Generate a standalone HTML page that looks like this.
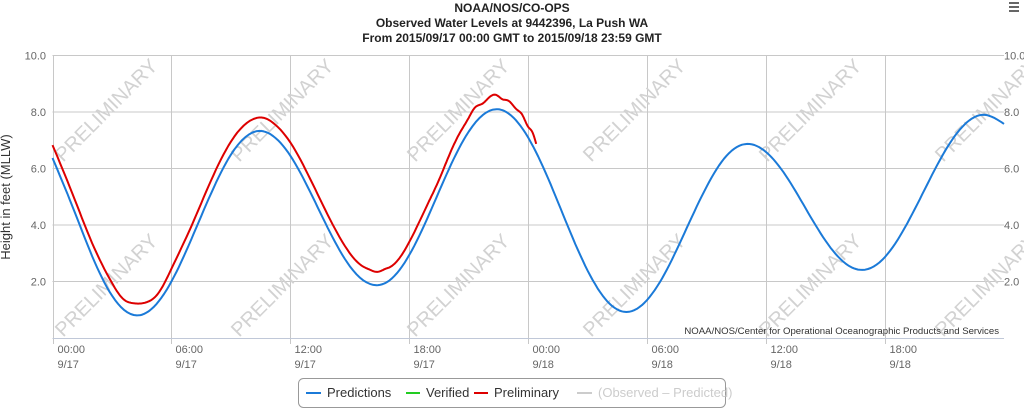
<!DOCTYPE html>
<html><head><meta charset="utf-8"><style>
html,body{margin:0;padding:0;background:#fff;width:1024px;height:411px;overflow:hidden;font-family:"Liberation Sans",sans-serif}
</style></head><body>
<svg id="chart" width="1024" height="411" viewBox="0 0 1024 411" xmlns="http://www.w3.org/2000/svg">
<g font-weight="bold" font-size="12" fill="#222" text-anchor="middle">
<text x="512" y="12">NOAA/NOS/CO-OPS</text>
<text x="512" y="27">Observed Water Levels at 9442396, La Push WA</text>
<text x="512" y="42">From 2015/09/17 00:00 GMT to 2015/09/18 23:59 GMT</text>
</g>
<g fill="#666">
<rect x="1009" y="2" width="10" height="2"/><rect x="1009" y="6" width="10" height="2"/><rect x="1009" y="10" width="10" height="2"/>
</g>
<g id="grid"></g>
<g id="watermarks"></g>
<g id="series"></g>
<g id="axes"></g>
<text x="10" y="197" transform="rotate(-90 10 197)" text-anchor="middle" font-size="13" fill="#333">Height in feet (MLLW)</text>
<text x="999" y="334" text-anchor="end" font-size="9.6" fill="#333">NOAA/NOS/Center for Operational Oceanographic Products and Services</text>
<g font-size="13">
<rect x="298.5" y="378.5" width="427" height="29" rx="5" fill="#fff" stroke="#999"/>
<g><line x1="306" y1="393" x2="321" y2="393" stroke="#1b7ad8" stroke-width="2"/><text x="327" y="397" fill="#333">Predictions</text></g>
<g><line x1="406" y1="393" x2="420" y2="393" stroke="#22cc22" stroke-width="2"/><text x="426" y="397" fill="#333">Verified</text></g>
<g><line x1="474" y1="393" x2="488" y2="393" stroke="#dd0000" stroke-width="2"/><text x="494" y="397" fill="#333">Preliminary</text></g>
<g><line x1="577" y1="393" x2="592" y2="393" stroke="#ccc" stroke-width="2"/><text x="598" y="397" fill="#ccc">(Observed – Predicted)</text></g>
</g>
</svg>
<script>
const yTicks=[2,4,6,8,10];
const yTickLabels=["2.0","4.0","6.0","8.0","10.0"];
const xTickHours=[0,6,12,18,24,30,36,42];
const xTickTimes=["00:00","06:00","12:00","18:00","00:00","06:00","12:00","18:00"];
const xTickDates=["9/17","9/17","9/17","9/17","9/18","9/18","9/18","9/18"];
const predHours=[0,1,2,3,4.25,5,6,7,8,9,10.45,11,12,13,14,15,16.35,17,18,19,20,21,22.4,23,24,25,26,27,28,28.95,30,31,32,33,34,35.05,36,37,38,39,40,40.85,42,43,44,45,46,47,48];
const predValues=[6.37,4.67,2.90,1.50,0.80,1.03,2.0,3.49,5.12,6.49,7.33,7.21,6.45,5.17,3.74,2.54,1.87,2.04,2.94,4.38,5.98,7.31,8.10,7.95,7.09,5.65,3.95,2.38,1.29,0.92,1.35,2.43,3.90,5.36,6.45,6.87,6.58,5.74,4.58,3.44,2.64,2.41,2.87,3.91,5.26,6.59,7.55,7.90,7.58];
const prelimHours=[0,1,2,3,3.6,4,4.4,4.8,5.3,6,7,8,9,10.3,10.8,11,12,13,14,15,15.6,16,16.4,16.8,17,18,19,19.5,20,20.5,21,21.3,21.7,22,22.4,22.7,23,23.4,23.7,24,24.2,24.4];
const prelimValues=[6.83,5.12,3.36,1.95,1.36,1.24,1.22,1.28,1.55,2.45,3.95,5.58,6.95,7.79,7.76,7.68,6.92,5.63,4.2,3.0,2.56,2.42,2.34,2.45,2.5,3.4,4.85,5.6,6.45,7.2,7.8,8.15,8.3,8.5,8.6,8.45,8.4,8.1,7.9,7.47,7.3,6.87];
const X0=52.5,X1=1004,Y0=338,Y1=55.5;
const xs=h=>X0+(X1-X0)*h/48;
const ys=v=>Y0+(Y1-Y0)*v/10;
const NS="http://www.w3.org/2000/svg";
function mk(tag,attrs,parent){const e=document.createElementNS(NS,tag);for(const k in attrs)e.setAttribute(k,attrs[k]);parent.appendChild(e);return e;}
const grid=document.getElementById('grid'),axes=document.getElementById('axes'),wm=document.getElementById('watermarks'),series=document.getElementById('series');
yTicks.forEach((v,i)=>{
 const l=mk('line',{x1:X0,x2:X1,y1:ys(v),y2:ys(v),stroke:'#c8c8c8','stroke-width':1},grid);
 
 
 const t=mk('text',{x:46,y:ys(v)+4,'text-anchor':'end','font-size':11,fill:'#666'},axes);t.textContent=yTickLabels[i];
 
 
 const t2=mk('text',{x:1004,y:ys(v)+4,'font-size':11,fill:'#666'},axes);t2.textContent=yTickLabels[i];
 
 
});
xTickHours.forEach((h,i)=>{
 const x=Math.round(xs(h))+0.5;
 const l=mk('line',{x1:x,x2:x,y1:Y1,y2:Y0+6,stroke:'#c8c8c8','stroke-width':1},grid);
 
 
 const t=mk('text',{x:x+4,y:353,'font-size':11,fill:'#666'},axes);t.textContent=xTickTimes[i];
 
 
 const d=mk('text',{x:x+4,y:368,'font-size':11,fill:'#666'},axes);d.textContent=xTickDates[i];
 
 
});
const bl=mk('line',{x1:X0,x2:X1,y1:Y0+0.5,y2:Y0+0.5,stroke:'#c0c8d8','stroke-width':1},grid);


for(let r=0;r<2;r++)for(let c=0;c<6;c++){
 const cx=106+176*c,cy=r?285:110;
 const t=mk('text',{x:cx,y:cy+7,'text-anchor':'middle','font-size':20,fill:'#d2d2d2',transform:`rotate(-45 ${cx} ${cy})`},wm);
 t.textContent='PRELIMINARY';
 
 
}
// natural cubic spline, sampled
function path(hs,vs){
 const n=hs.length,h=[],a=new Array(n).fill(0),b=new Array(n).fill(0),c=new Array(n).fill(0),r=new Array(n).fill(0);
 for(let i=0;i<n-1;i++)h.push(hs[i+1]-hs[i]);
 b[0]=1;b[n-1]=1;
 for(let i=1;i<n-1;i++){a[i]=h[i-1];b[i]=2*(h[i-1]+h[i]);c[i]=h[i];r[i]=6*((vs[i+1]-vs[i])/h[i]-(vs[i]-vs[i-1])/h[i-1]);}
 for(let i=1;i<n;i++){const w=a[i]/b[i-1];b[i]-=w*c[i-1];r[i]-=w*r[i-1];}
 const M=new Array(n);M[n-1]=r[n-1]/b[n-1];
 for(let i=n-2;i>=0;i--)M[i]=(r[i]-c[i]*M[i+1])/b[i];
 let s='';
 for(let i=0;i<n-1;i++){
  const steps=8;
  for(let k=(i?1:0);k<=steps;k++){
   const t=hs[i]+h[i]*k/steps,A=(hs[i+1]-t)/h[i],B=(t-hs[i])/h[i];
   const v=A*vs[i]+B*vs[i+1]+((A*A*A-A)*M[i]+(B*B*B-B)*M[i+1])*h[i]*h[i]/6;
   s+=(s?'L':'M')+xs(t).toFixed(1)+','+ys(v).toFixed(1);
  }
 }
 return s;
}
const pp=mk('path',{d:path(predHours,predValues),fill:'none',stroke:'#1b7ad8','stroke-width':2,'stroke-linejoin':'round'},series);


const pr=mk('path',{d:path(prelimHours,prelimValues),fill:'none',stroke:'#dd0000','stroke-width':2,'stroke-linejoin':'round'},series);


</script>
</body></html>
